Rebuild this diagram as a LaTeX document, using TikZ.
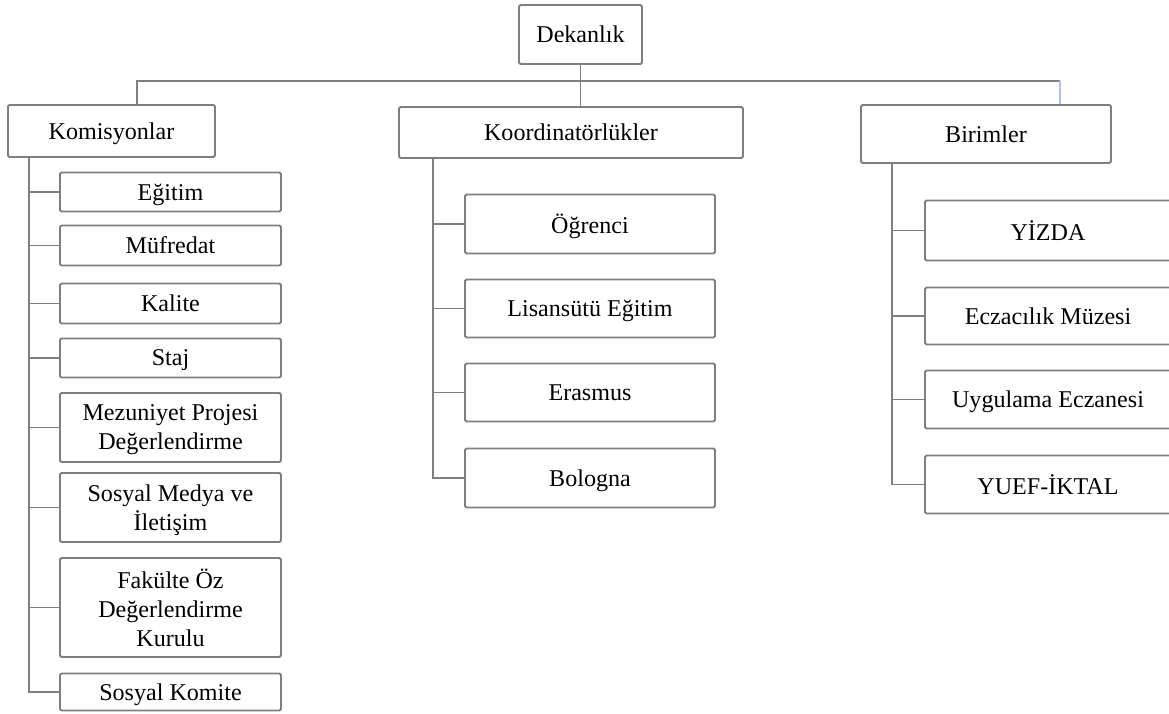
\documentclass[tikz,border=0pt]{standalone}
\usepackage{fontspec}
\setmainfont{Liberation Serif}
\definecolor{linegray}{HTML}{7F7F7F}
\definecolor{lineblue}{HTML}{A9C4EB}
\begin{document}
\begin{tikzpicture}[x=0.02cm,y=-0.02cm,
  line width=1.1pt,
  main node/.style 2 args={rectangle,draw=linegray,rounded corners=0.8pt,
    align=center,inner sep=2pt,text depth=0pt,font=\fontsize{13.7}{16.5}\selectfont,
    minimum width=#1*0.02cm,minimum height=#2*0.02cm}]
  \useasboundingbox (0,0) rectangle (1169,713);
  % top
  \node[main node={123}{59}] (dek) at (580.5,34.5) {Dekanlık};
  \node[main node={207}{52}] (kom) at (111.5,131) {Komisyonlar};
  \node[main node={344}{51}] (koo) at (571,132.5) {Koordinatörlükler};
  \node[main node={250}{58}] (bir) at (986,134) {Birimler};

  % komisyonlar
  \node[main node={221}{39}] (egt) at (170.5,192) {Eğitim};
  \node[main node={221}{40}] (muf) at (170.5,245.5) {Müfredat};
  \node[main node={221}{40}] (kal) at (170.5,303.5) {Kalite};
  \node[main node={221}{39}] (stj) at (170.5,358) {Staj};
  \node[main node={221}{69}] (mez) at (170.5,427.5) {Mezuniyet Projesi\\Değerlendirme};
  \node[main node={221}{69}] (sme) at (170.5,507.5) {Sosyal Medya ve\\İletişim};
  \node[main node={221}{99}] (fak) at (170.5,607.5) {Fakülte Öz\\Değerlendirme\\Kurulu};
  \node[main node={221}{37}] (sko) at (170.5,692) {Sosyal Komite};

  % koordinatorlukler
  \node[main node={250}{59}] (ogr) at (590,224) {Öğrenci};
  \node[main node={250}{58}] (lis) at (590,308.5) {Lisansütü Eğitim};
  \node[main node={250}{58}] (era) at (590,392.5) {Erasmus};
  \node[main node={250}{59}] (bol) at (590,478) {Bologna};

  % birimler
  \node[main node={246}{60}] (yiz) at (1048,230.5) {YİZDA};
  \node[main node={246}{57}] (muz) at (1048,316) {Eczacılık Müzesi};
  \node[main node={246}{58}] (uyg) at (1048,399.5) {Uygulama Eczanesi};
  \node[main node={246}{58}] (yue) at (1048,484.5) {YUEF-İKTAL};

  \coordinate (bus) at (580,81);
  \draw[linegray] (dek.south) -- (dek.south |- koo.north);
  \draw[linegray] (kom.north -| 137,0) |- (bus) -| (1060,81);
  \draw[lineblue] (1060,81) -- (bir.north -| 1060,0);

  \draw[linegray] (kom.south -| 29,0) |- (sko.west);
  \foreach \n in {egt,muf,kal,stj,mez,sme,fak}
    \draw[linegray] (\n.west -| 29,0) -- (\n.west);
  \draw[linegray] (koo.south -| 433,0) |- (bol.west);
  \foreach \n in {ogr,lis,era}
    \draw[linegray] (\n.west -| 433,0) -- (\n.west);
  \draw[linegray] (bir.south -| 892,0) |- (yue.west);
  \foreach \n in {yiz,muz,uyg}
    \draw[linegray] (\n.west -| 892,0) -- (\n.west);
\end{tikzpicture}
\end{document}
